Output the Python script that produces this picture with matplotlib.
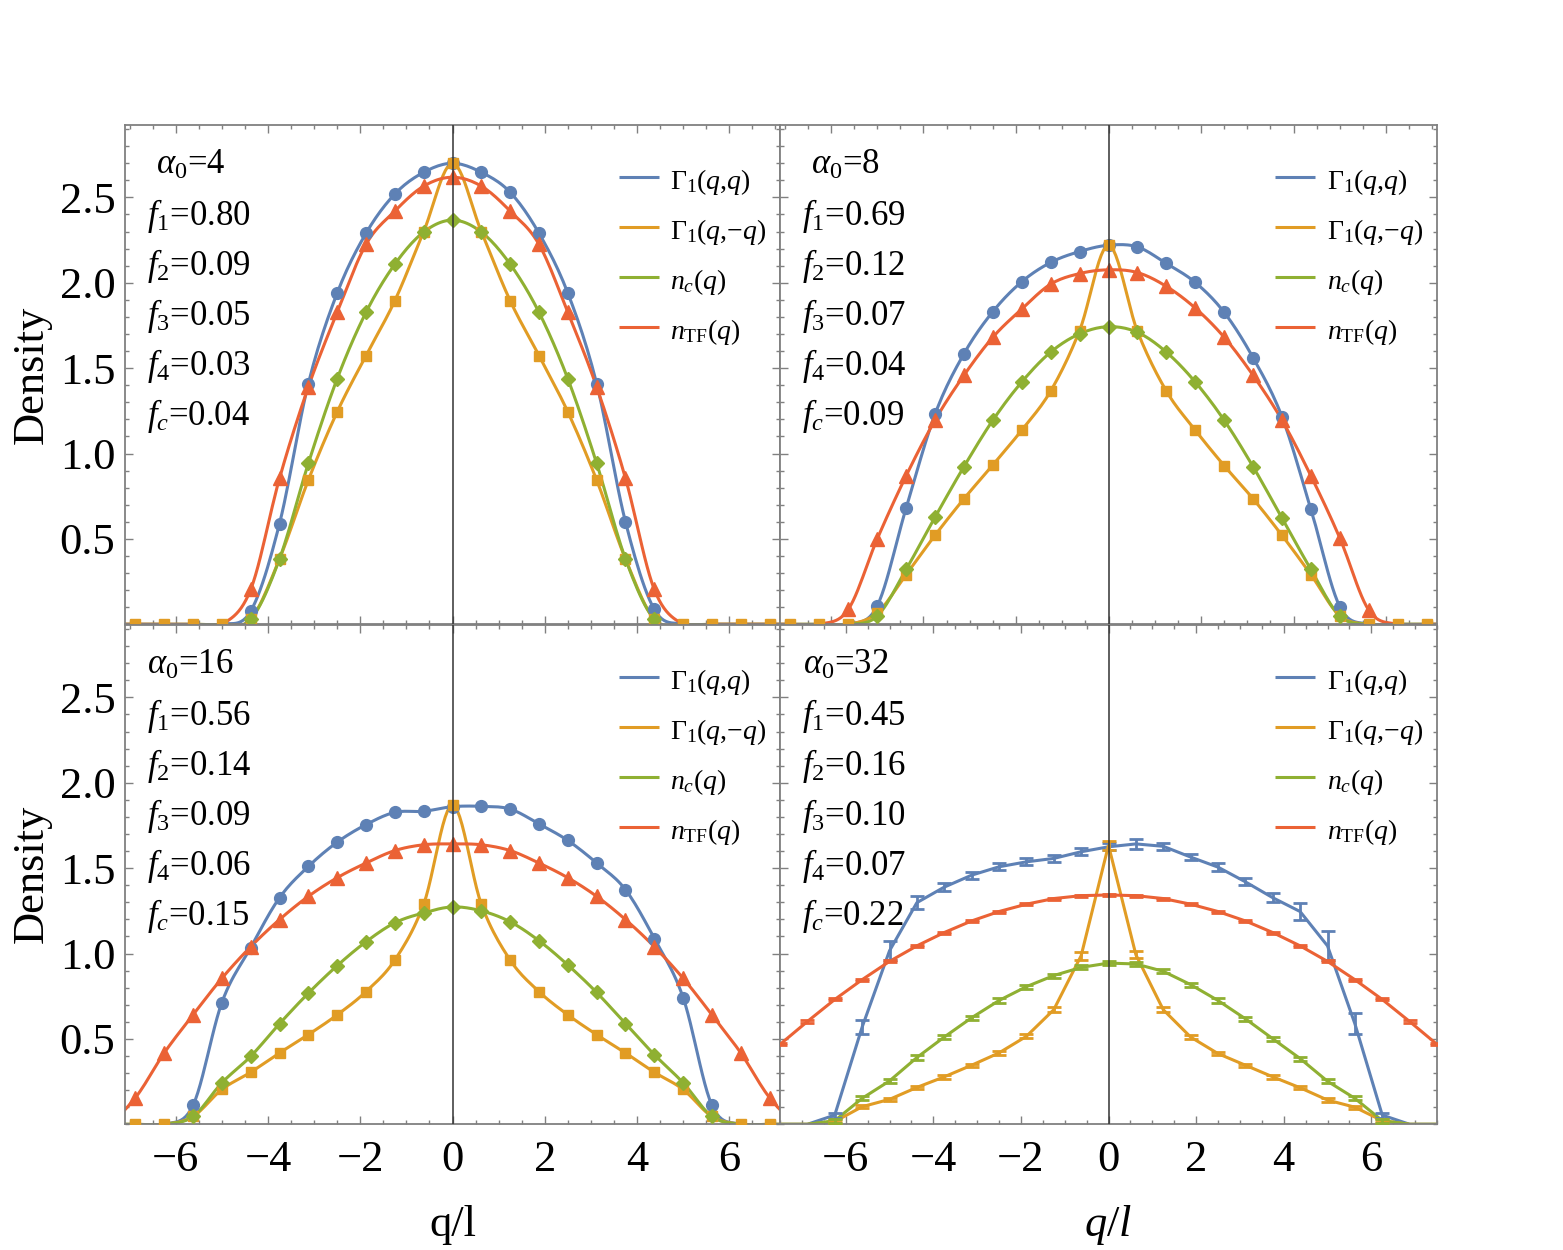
import numpy as np
import matplotlib
matplotlib.use('Agg')
import matplotlib.pyplot as plt
from matplotlib.ticker import MultipleLocator, FixedLocator

plt.rcParams['font.family'] = 'Liberation Serif'
plt.rcParams['mathtext.fontset'] = 'custom'
plt.rcParams['mathtext.rm'] = 'Liberation Serif'
plt.rcParams['mathtext.it'] = 'Liberation Serif:italic'
plt.rcParams['mathtext.bf'] = 'Liberation Serif:bold'

# momentum grid q/l (k = -12 ... 12)
q = 0.625 * np.arange(-12, 13)

# alpha_0 = 4
gqq_4 = [0, 0, 0, 0, 0, 0.077, 0.59, 1.41, 1.94, 2.29, 2.52, 2.647, 2.70,
         2.647, 2.53, 2.29, 1.94, 1.41, 0.60, 0.087, 0, 0, 0, 0, 0]
gqmq_4 = [0, 0, 0, 0, 0, 0.03, 0.383, 0.845, 1.244, 1.574, 1.895, 2.30, 2.70,
          2.30, 1.895, 1.574, 1.244, 0.845, 0.383, 0.03, 0, 0, 0, 0, 0]
nc_4 = [0, 0, 0, 0, 0, 0.029, 0.383, 0.943, 1.438, 1.827, 2.109, 2.297, 2.367,
        2.297, 2.109, 1.827, 1.438, 0.943, 0.383, 0.029, 0, 0, 0, 0, 0]
ntf_4 = [0, 0, 0, 0, 0, 0.204, 0.855, 1.39, 1.827, 2.225, 2.42, 2.566, 2.618,
         2.566, 2.42, 2.225, 1.827, 1.39, 0.855, 0.204, 0, 0, 0, 0, 0]

# alpha_0 = 8
gqq_8 = [0, 0, 0, 0, 0.107, 0.680, 1.230, 1.584, 1.831, 2.006, 2.119, 2.183, 2.22,
         2.21, 2.113, 2.002, 1.827, 1.561, 1.215, 0.674, 0.103, 0, 0, 0, 0]
gqmq_8 = [0, 0, 0, 0, 0.067, 0.291, 0.521, 0.735, 0.933, 1.137, 1.366, 1.720, 2.22,
          1.716, 1.366, 1.137, 0.929, 0.735, 0.521, 0.291, 0.05, 0, 0, 0, 0]
nc_8 = [0, 0, 0, 0, 0.048, 0.321, 0.627, 0.923, 1.195, 1.419, 1.594, 1.701, 1.743,
        1.71, 1.594, 1.419, 1.195, 0.923, 0.622, 0.321, 0.048, 0, 0, 0, 0]
ntf_8 = [0, 0, 0, 0.087, 0.499, 0.869, 1.195, 1.458, 1.681, 1.846, 1.992, 2.054, 2.076,
         2.06, 1.979, 1.852, 1.681, 1.458, 1.195, 0.869, 0.505, 0.083, 0, 0, 0]

# alpha_0 = 16
gqq_16 = [0, 0, 0, 0.111, 0.713, 1.035, 1.327, 1.510, 1.652, 1.755, 1.827, 1.833, 1.86,
          1.862, 1.846, 1.759, 1.662, 1.530, 1.374, 1.088, 0.742, 0.111, 0, 0, 0]
gqmq_16 = [0, 0, 0, 0.046, 0.204, 0.305, 0.418, 0.525, 0.641, 0.777, 0.962, 1.289, 1.87,
           1.289, 0.962, 0.777, 0.641, 0.525, 0.418, 0.305, 0.204, 0.046, 0, 0, 0]
nc_16 = [0, 0, 0, 0.046, 0.243, 0.398, 0.589, 0.768, 0.929, 1.069, 1.180, 1.238, 1.273,
         1.25, 1.186, 1.075, 0.933, 0.772, 0.589, 0.408, 0.243, 0.046, 0, 0, 0]
ntf_16 = [0, 0.156, 0.418, 0.641, 0.855, 1.040, 1.199, 1.335, 1.444, 1.530, 1.603, 1.637, 1.642,
          1.637, 1.603, 1.530, 1.444, 1.335, 1.199, 1.040, 0.855, 0.641, 0.418, 0.156, 0]

# alpha_0 = 32 (with error bars)
gqq_32 = [0, 0, 0.054, 0.569, 1.016, 1.298, 1.389, 1.459, 1.508, 1.537, 1.557, 1.596, 1.625,
          1.642, 1.628, 1.565, 1.506, 1.42, 1.327, 1.246, 1.045, 0.589, 0.054, 0, 0]
gqmq_32 = [0, 0, 0.016, 0.103, 0.146, 0.216, 0.278, 0.346, 0.418, 0.515, 0.671, 0.987, 1.634,
           0.993, 0.671, 0.511, 0.414, 0.346, 0.278, 0.214, 0.142, 0.100, 0.021, 0, 0]
nc_32 = [0, 0, 0.021, 0.152, 0.254, 0.391, 0.511, 0.624, 0.725, 0.806, 0.871, 0.919, 0.944,
         0.939, 0.896, 0.818, 0.725, 0.618, 0.501, 0.385, 0.252, 0.152, 0.021, 0, 0]
ntf_32 = [0.468, 0.602, 0.731, 0.847, 0.954, 1.045, 1.123, 1.191, 1.246, 1.289, 1.322, 1.339, 1.343,
          1.339, 1.322, 1.289, 1.246, 1.191, 1.123, 1.045, 0.954, 0.847, 0.731, 0.602, 0.468]
gqq_32_err = [0, 0, 0.015, 0.04, 0.055, 0.04, 0.025, 0.02, 0.02, 0.02, 0.02, 0.02, 0.02,
              0.03, 0.02, 0.02, 0.025, 0.02, 0.025, 0.05, 0.085, 0.06, 0.015, 0, 0]
gqmq_32_err = [0, 0, 0.01, 0.01, 0.01, 0.01, 0.01, 0.01, 0.01, 0.012, 0.015, 0.022, 0.025,
               0.022, 0.015, 0.012, 0.01, 0.01, 0.01, 0.01, 0.01, 0.01, 0.01, 0, 0]
nc_32_err = [0.012] * 25
ntf_32_err = [0.006] * 25

alphas = [4, 8, 16, 32]
fractions = {
    4: ['0.80', '0.09', '0.05', '0.03', '0.04'],
    8: ['0.69', '0.12', '0.07', '0.04', '0.09'],
    16: ['0.56', '0.14', '0.09', '0.06', '0.15'],
    32: ['0.45', '0.16', '0.10', '0.07', '0.22'],
}
legend_labels = [r'$\Gamma_1(q{,}q)$', r'$\Gamma_1(q{,}{-}q)$', r'$n_c(q)$', r'$n_{\mathrm{TF}}(q)$']

colors = ['#5E81B5', '#E19C24', '#8FB032', '#EB6235']
markers = [('o', 8.5), ('s', 6.5), ('D', 7.0), ('^', 9.5)]
frame_color = '#808080'


def spline_path(x, y, n=12):
    """Catmull-Rom path through the points, to draw a smooth line between markers."""
    x = np.asarray(x, float)
    y = np.asarray(y, float)
    yp = np.concatenate([[y[0]], y, [y[-1]]])
    p0, p1, p2, p3 = yp[:-3], yp[1:-2], yp[2:-1], yp[3:]
    t = np.linspace(0, 1, n, endpoint=False)[:, None]
    ys = 0.5 * (2 * p1 + (p2 - p0) * t + (2 * p0 - 5 * p1 + 4 * p2 - p3) * t ** 2
                + (3 * p1 - p0 - 3 * p2 + p3) * t ** 3)
    xs = x[:-1] + (x[1:] - x[:-1]) * t
    return np.append(xs.T.ravel(), x[-1]), np.append(ys.T.ravel(), y[-1])


def setup_axes(ax, xmax, left_labels, bottom_labels):
    ax.set_xlim(-xmax, xmax)
    ax.set_ylim(0, 2.924)
    ax.xaxis.set_major_locator(FixedLocator([-6, -4, -2, 0, 2, 4, 6]))
    ax.xaxis.set_minor_locator(MultipleLocator(0.5))
    ax.yaxis.set_major_locator(FixedLocator([0.5, 1.0, 1.5, 2.0, 2.5]))
    ax.yaxis.set_minor_locator(MultipleLocator(0.1))
    ax.yaxis.set_major_formatter(plt.FormatStrFormatter('%.1f'))
    ax.tick_params(which='both', direction='in', top=True, right=True,
                   color=frame_color, width=1.0, labelsize=32, pad=7,
                   labelleft=left_labels, labelbottom=bottom_labels)
    ax.tick_params(axis='x', which='both', pad=11)
    ax.tick_params(which='major', length=6)
    ax.tick_params(which='minor', length=3)
    for sp in ax.spines.values():
        sp.set_color(frame_color)
        sp.set_linewidth(1.3)
    ax.axvline(0, color='#333333', lw=1.1, zorder=6)


def annotate(ax, alpha, fr):
    ax.text(0.10, 0.903, r'$\alpha_0$=%d' % alpha, transform=ax.transAxes,
            fontsize=25, ha='center', va='baseline')
    names = ['1', '2', '3', '4', 'c']
    for i, (nm, v) in enumerate(zip(names, fr)):
        ax.text(0.033, 0.800 - 0.1003 * i, r'$f_%s$=%s' % (nm, v), transform=ax.transAxes,
                fontsize=25, ha='left', va='baseline')
    for i, (lab, c) in enumerate(zip(legend_labels, colors)):
        yl = 0.8965 - 0.1001 * i
        ax.plot([0.754, 0.815], [yl, yl], color=c, lw=2.2, transform=ax.transAxes,
                solid_capstyle='butt')
        ax.text(0.832, yl - 0.024, lab, transform=ax.transAxes, fontsize=20,
                ha='left', va='baseline')


def draw_smooth(ax, series):
    for i, (y, c) in enumerate(zip(series, colors)):
        xs, ys = spline_path(q, y)
        ax.plot(xs, ys, color=c, lw=2.2, zorder=2 + 0.1 * i)
    for i, (y, c) in enumerate(zip(series, colors)):
        y = np.asarray(y, float)
        m = np.ones_like(y, bool) if i == 1 else y > 0
        mk, ms = markers[i]
        ax.plot(q[m], y[m], ls='none', marker=mk, ms=ms, color=c, mec=c, zorder=3 + 0.1 * i)


def draw_errorbars(ax, series, errs):
    for i, (y, c) in enumerate(zip(series, colors)):
        ax.plot(q, y, color=c, lw=2.2, zorder=2 + 0.1 * i)
    for i, (y, e, c) in enumerate(zip(series, errs, colors)):
        y = np.asarray(y, float)
        e = np.asarray(e, float)
        m = y > 0
        ax.errorbar(q[m], y[m], yerr=e[m], fmt='none', ecolor=c, elinewidth=2,
                    capsize=5, capthick=2, zorder=3 + 0.1 * i)


fig = plt.figure(figsize=(15.63, 12.5), dpi=100)
x_left, x_right = 125 / 1563, 780 / 1563
w_left, w_right = 655 / 1563, 657 / 1563
y_top, y_bot = 1 - 624.3 / 1250, 1 - 1124.3 / 1250
h = 499.3 / 1250

ax_a = fig.add_axes([x_left, y_top, w_left, h])
ax_b = fig.add_axes([x_right, y_top, w_right, h])
ax_c = fig.add_axes([x_left, y_bot, w_left, h])
ax_d = fig.add_axes([x_right, y_bot, w_right, h])

setup_axes(ax_a, 7.1, True, False)
setup_axes(ax_b, 7.1, False, False)
setup_axes(ax_c, 7.1, True, True)
setup_axes(ax_d, 7.5, False, True)

draw_smooth(ax_a, [gqq_4, gqmq_4, nc_4, ntf_4])
draw_smooth(ax_b, [gqq_8, gqmq_8, nc_8, ntf_8])
draw_smooth(ax_c, [gqq_16, gqmq_16, nc_16, ntf_16])
draw_errorbars(ax_d, [gqq_32, gqmq_32, nc_32, ntf_32],
               [gqq_32_err, gqmq_32_err, nc_32_err, ntf_32_err])

for ax, a in zip([ax_a, ax_b, ax_c, ax_d], alphas):
    annotate(ax, a, fractions[a])

fig.text(0.020, 1 - 374.6 / 1250, 'Density', rotation=90, fontsize=32, ha='center', va='center')
fig.text(0.020, 1 - 874.3 / 1250, 'Density', rotation=90, fontsize=32, ha='center', va='center')
fig.text(452.5 / 1563, 14 / 1250, 'q/l', fontsize=32, ha='center', va='baseline')
fig.text(1108.5 / 1563, 14 / 1250, r'$q/l$', fontsize=32, ha='center', va='baseline')

fig.savefig('out.png', dpi=100)
